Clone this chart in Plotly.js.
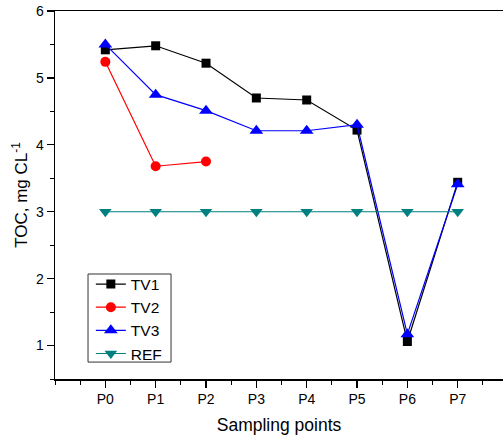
<!DOCTYPE html>
<html>
<head>
<meta charset="utf-8">
<script src="https://cdn.plot.ly/plotly-3.0.1.min.js"></script>
<style>html,body{margin:0;padding:0;background:#fff;}#chart{width:503px;height:436px;}</style>
</head>
<body>
<div id="chart"></div>
<script>
const categories = ["P0", "P1", "P2", "P3", "P4", "P5", "P6", "P7"];
const positions = [0, 1, 2, 3, 4, 5, 6, 7];
const tv1 = [5.42, 5.48, 5.22, 4.70, 4.67, 4.22, 1.06, 3.44];
const tv2 = [5.24, 3.68, 3.75];
const tv3 = [5.50, 4.75, 4.51, 4.21, 4.21, 4.30, 1.17, 3.41];
const ref = [3, 3, 3, 3, 3, 3, 3, 3];

const font = "Liberation Sans, Arial, sans-serif";
const traces = [
  {x: positions, y: tv1, name: "TV1", mode: "lines+markers",
   line: {color: "#000000", width: 1.2}, marker: {symbol: "square", size: 9, color: "#000000"}},
  {x: positions.slice(0, tv2.length), y: tv2, name: "TV2", mode: "lines+markers",
   line: {color: "#ff0000", width: 1.2}, marker: {symbol: "circle", size: 10, color: "#ff0000"}},
  {x: positions, y: tv3, name: "TV3", mode: "lines+markers",
   line: {color: "#0000ff", width: 1.2}, marker: {symbol: "triangle-up", size: 12, color: "#0000ff"}},
  {x: positions, y: ref, name: "REF", mode: "lines+markers",
   line: {color: "#008080", width: 1.2}, marker: {symbol: "triangle-down", size: 11, color: "#008080"}}
];

const layout = {
  width: 503, height: 436,
  margin: {l: 55, r: 0, t: 11, b: 57},
  paper_bgcolor: "#ffffff", plot_bgcolor: "#ffffff",
  font: {family: font, color: "#000000"},
  showlegend: true,
  legend: {x: 0.08, y: 0.303, xanchor: "left", yanchor: "top",
    borderwidth: 0, bgcolor: "rgba(0,0,0,0)",
    font: {size: 15.5, family: font}, tracegroupgap: 0},
  shapes: [{type: "rect", xref: "paper", yref: "paper",
    x0: 0.0737, x1: 0.259, y0: 0.046, y1: 0.2853,
    line: {color: "#333333", width: 1}, fillcolor: "rgba(0,0,0,0)"}],
  xaxis: {
    range: [-1, 7.9], tickmode: "array", tickvals: positions, ticktext: categories,
    showgrid: false, zeroline: false, showline: true, linecolor: "#000000", linewidth: 1.5,
    mirror: true, ticks: "outside", ticklen: 7, tickwidth: 1.2, tickcolor: "#000000",
    tickfont: {size: 14, family: font},
    minor: {dtick: 0.5, tick0: 0.5, ticks: "outside", ticklen: 4, tickwidth: 1, tickcolor: "#000000"},
    title: {text: "Sampling points", font: {size: 17.5, family: font}, standoff: 12}
  },
  yaxis: {
    range: [0.5, 6], tickvals: [1, 2, 3, 4, 5, 6],
    showgrid: false, zeroline: false, showline: true, linecolor: "#000000", linewidth: 1.5,
    mirror: false, ticks: "outside", ticklen: 7, tickwidth: 1.2, tickcolor: "#000000",
    tickfont: {size: 14, family: font},
    minor: {dtick: 0.5, tick0: 0.5, ticks: "outside", ticklen: 4, tickwidth: 1, tickcolor: "#000000"},
    title: {text: "TOC, mg CL<sup>-1</sup>", font: {size: 17, family: font}, standoff: 4}
  }
};

Plotly.newPlot("chart", traces, layout, {displayModeBar: false, staticPlot: true});
</script>
</body>
</html>
